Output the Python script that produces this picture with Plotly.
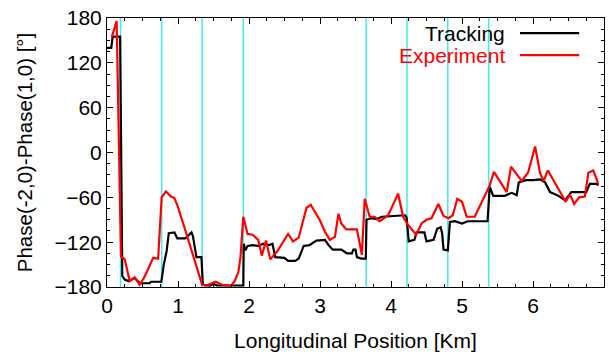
import plotly.graph_objects as go

# ---- data ----
track_x = [0.0, 0.06, 0.08, 0.185, 0.215, 0.25, 0.30, 0.39, 0.44, 0.47, 0.60, 0.62, 0.765,
           0.78, 0.80, 0.84, 0.87, 0.95, 0.99, 1.10, 1.15, 1.19, 1.21, 1.26, 1.33, 1.35,
           1.45, 1.50, 1.55, 1.92, 1.925, 1.95, 1.98, 2.05, 2.13, 2.20, 2.28, 2.33, 2.37,
           2.50, 2.55, 2.65, 2.70, 2.77, 2.85, 2.95, 3.07, 3.12, 3.18, 3.30, 3.38, 3.45,
           3.47, 3.50, 3.52, 3.58, 3.645, 3.655, 3.72, 3.80, 3.87, 4.15, 4.20, 4.22, 4.25,
           4.33, 4.36, 4.47, 4.50, 4.60, 4.65, 4.70, 4.72, 4.74, 4.80, 4.83, 4.90, 5.00,
           5.08, 5.36, 5.39, 5.44, 5.60, 5.70, 5.77, 5.80, 5.90, 6.00, 6.10, 6.17, 6.24,
           6.36, 6.45, 6.54, 6.75, 6.80, 6.90, 6.92]
track_y = [140, 140, 155, 155, -165, -170, -172, -168, -173, -175, -175, -173, -173,
           -160, -150, -132, -108, -107, -115, -115, -110, -107, -112, -140, -140, -177,
           -178, -176, -178, -178, -122, -131, -125, -124, -125, -122, -124, -122, -140,
           -141, -145, -145, -142, -125, -124, -118, -117, -124, -130, -130, -135, -135,
           -130, -130, -140, -142, -142, -90, -88, -89, -86, -84, -84, -87, -119,
           -117, -107, -107, -119, -117, -102, -100, -108, -130, -131, -93, -92, -95,
           -92, -92, -46, -58, -58, -54, -57, -40, -37, -37, -36, -40, -53,
           -58, -64, -53, -53, -42, -42, -44]

exp_x = [0.066, 0.136, 0.197, 0.25, 0.32, 0.39, 0.46, 0.52, 0.58, 0.65, 0.72, 0.77,
         0.83, 0.90, 0.95, 1.00, 1.09, 1.19, 1.34, 1.40, 1.53, 1.62, 1.75, 1.80, 1.85,
         1.88, 1.92, 1.98, 2.05, 2.13, 2.18, 2.24, 2.30, 2.40, 2.55, 2.62, 2.70, 2.81,
         2.87, 3.00, 3.07, 3.14, 3.21, 3.26, 3.30, 3.37, 3.52, 3.59, 3.63, 3.70, 3.77,
         3.84, 3.96, 4.10, 4.17, 4.24, 4.355, 4.43, 4.50, 4.57, 4.667, 4.74, 4.81, 4.87,
         4.934, 5.00, 5.066, 5.18, 5.39, 5.45, 5.63, 5.69, 5.84, 5.93, 6.03, 6.10, 6.15,
         6.21, 6.46, 6.52, 6.58, 6.65, 6.73, 6.78, 6.85, 6.92]
exp_y = [154, 176, -139, -143, -172, -167, -177, -168, -156, -141, -142, -60,
         -52, -59, -61, -73, -100, -130, -177, -178, -173, -177, -178, -172, -160,
         -140, -86, -109, -110, -117, -138, -118, -143, -132, -109, -119, -114, -74,
         -70, -91, -106, -117, -113, -82, -95, -103, -103, -137, -62, -86, -86,
         -92, -84, -55, -86, -97, -110, -95, -90, -88, -69, -85, -88, -84,
         -62, -66, -86, -86, -44, -26, -53, -19, -38, -27, 8, -28, -38,
         -24, -66, -56, -69, -60, -59, -27, -24, -42]

cyan_x = [0.19, 0.77, 1.34, 1.92, 3.65, 4.225, 4.80, 5.375]

x_ticks = [0, 1, 2, 3, 4, 5, 6, 7]
y_ticks = [-180, -120, -60, 0, 60, 120, 180]

series_names = ["Tracking", "Experiment"]
series_colors = ["#000000", "#ff0000"]

FONT = "Liberation Sans, Arial, sans-serif"
FS = 21

fig = go.Figure()

for cx in cyan_x:
    fig.add_trace(go.Scatter(x=[cx, cx], y=[y_ticks[0], y_ticks[-1]], mode="lines",
                             line=dict(color="#40eaf2", width=1.5),
                             showlegend=False, hoverinfo="skip"))

fig.add_trace(go.Scatter(x=track_x, y=track_y, mode="lines", name=series_names[0],
                         line=dict(color=series_colors[0], width=2.2), showlegend=False))
fig.add_trace(go.Scatter(x=exp_x, y=exp_y, mode="lines", name=series_names[1],
                         line=dict(color=series_colors[1], width=2.2), showlegend=False))

# manual gnuplot-style legend (text left of sample line)
leg_y = [0.944, 0.862]
for name, col, ly in zip(series_names, series_colors, leg_y):
    fig.add_annotation(x=0.805, y=ly, xref="paper", yref="paper", text=name,
                       showarrow=False, xanchor="right", yanchor="middle",
                       font=dict(family=FONT, size=FS, color=col))
    fig.add_shape(type="line", xref="paper", yref="paper", x0=0.831, x1=0.95,
                  y0=ly, y1=ly, line=dict(color=col, width=2.2))

axis_common = dict(showline=True, linecolor="black", linewidth=1, mirror="allticks",
                   ticks="inside", ticklen=6, tickcolor="black", tickwidth=1,
                   showgrid=False, zeroline=False,
                   tickfont=dict(family=FONT, size=FS, color="black"))

fig.update_xaxes(range=[0, 7], tickvals=x_ticks,
                 minor=dict(dtick=0.25, ticks="inside", ticklen=3, tickcolor="black", showgrid=False),
                 title=dict(text="Longitudinal Position [Km]", font=dict(family=FONT, size=FS, color="black"),
                            standoff=17),
                 **axis_common)
fig.update_yaxes(range=[-180, 180], tickvals=y_ticks,
                 minor=dict(dtick=15, ticks="inside", ticklen=3, tickcolor="black", showgrid=False),
                 title=dict(text="Phase(-2,0)-Phase(1,0) [°]", font=dict(family=FONT, size=20.5, color="black"),
                            standoff=16),
                 **axis_common)

fig.update_layout(width=609, height=356, margin=dict(l=107, r=5, t=18, b=69),
                  plot_bgcolor="white", paper_bgcolor="white", showlegend=False)

fig.write_html("out.html")
